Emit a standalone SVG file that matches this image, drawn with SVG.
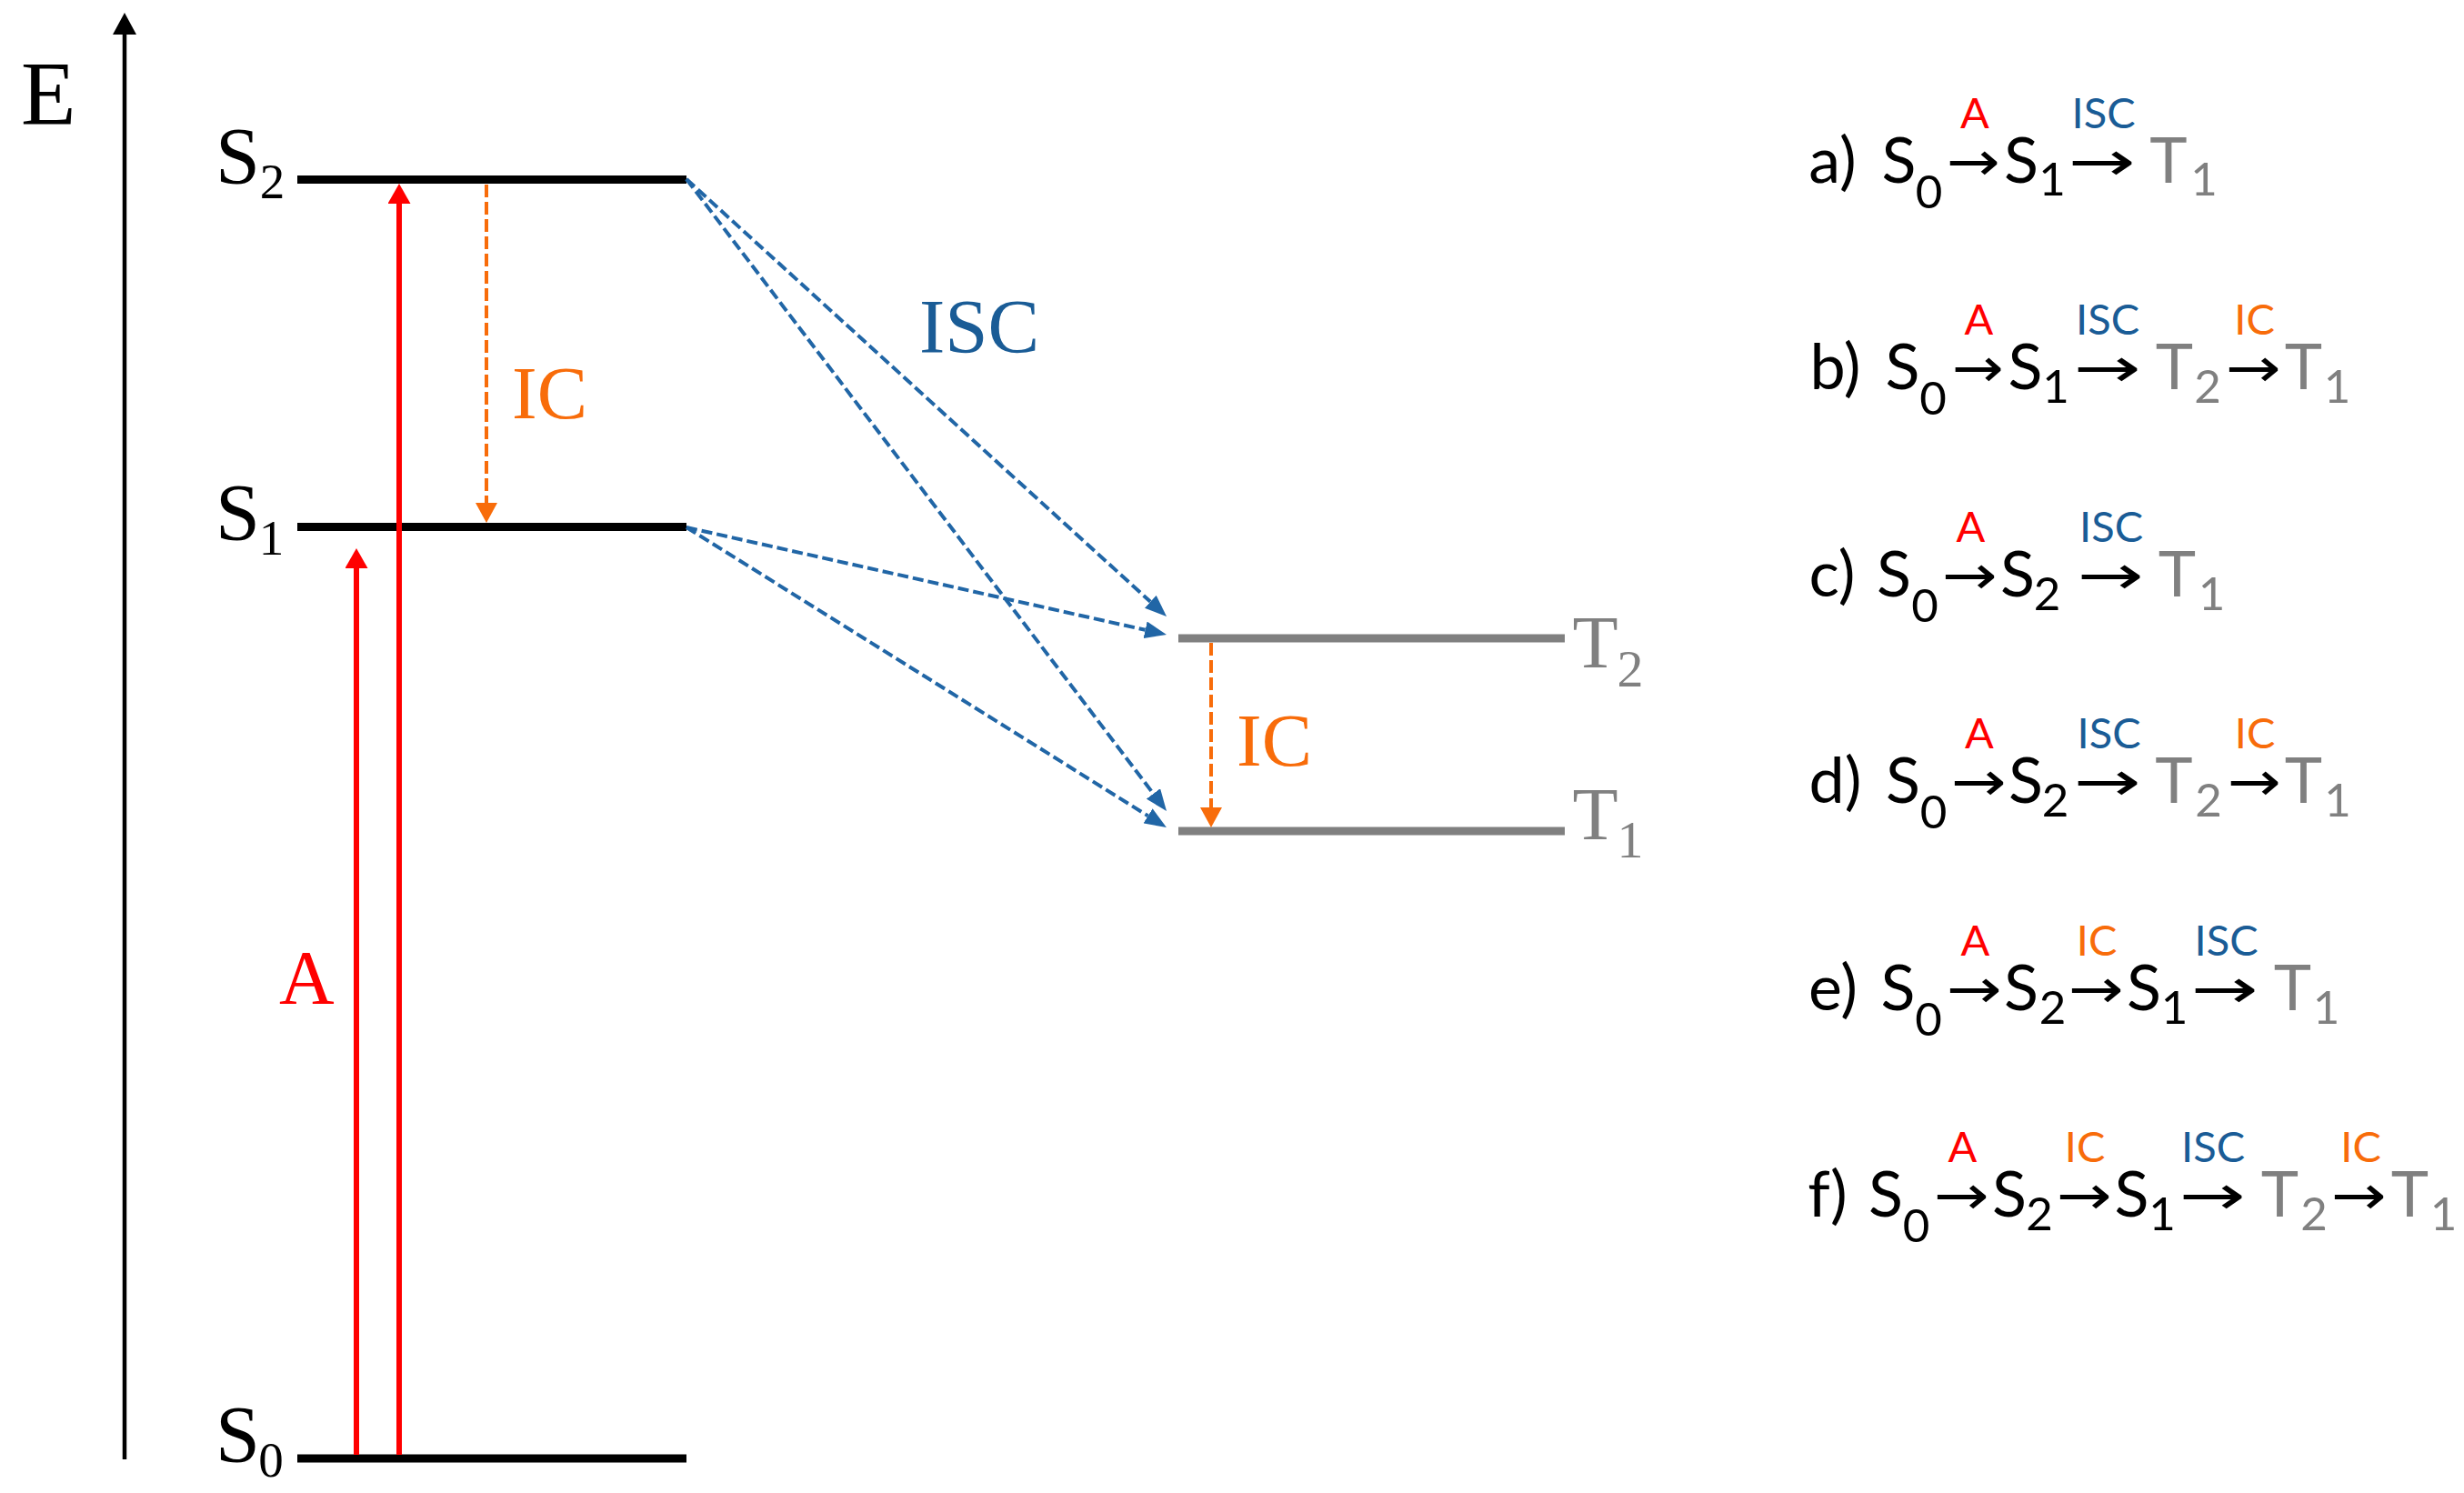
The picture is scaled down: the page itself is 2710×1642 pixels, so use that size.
<svg xmlns="http://www.w3.org/2000/svg" width="2710" height="1642" viewBox="0 0 2710 1642">
<style>
.lvl{stroke:#000;stroke-width:9;}
.tlvl{stroke:#808080;stroke-width:9;}
.serif{font-family:"Liberation Serif","Times New Roman",serif;}
.big{font-size:88px;}
.bsub{font-size:55px;}
.red{fill:#ff0000;}
.org{fill:#f86c0a;}
.blu{fill:#1a5c96;}
.gry{fill:#808080;}
.blk{fill:#000;}
.abs{stroke:#ff0000;stroke-width:6;fill:none;}
.icl{stroke:#f86c0a;stroke-width:4;stroke-dasharray:14 5;fill:none;}
.isc{stroke:#2166a6;stroke-width:4;stroke-dasharray:12 5;fill:none;}
.m{font-family:Lato,"Open Sans",sans-serif;font-size:70px;text-anchor:middle;}
.s{font-family:Lato,"Open Sans",sans-serif;font-size:51px;text-anchor:middle;}
.l{font-family:Lato,"Open Sans",sans-serif;font-size:47px;text-anchor:middle;}
.ar{font-family:"DejaVu Sans",sans-serif;font-size:60px;fill:#000;}
</style>
<defs>
<marker id="hBlack" markerUnits="userSpaceOnUse" viewBox="0 0 24 26" refX="0" refY="13" markerWidth="24" markerHeight="26" orient="auto"><path d="M0,0 L24,13 L0,26 z" fill="#000"/></marker>
<marker id="hRed" markerUnits="userSpaceOnUse" viewBox="0 0 22 25" refX="0" refY="12.5" markerWidth="22" markerHeight="25" orient="auto"><path d="M0,0 L22,12.5 L0,25 z" fill="#ff0000"/></marker>
<marker id="hOrg" markerUnits="userSpaceOnUse" viewBox="0 0 22 24" refX="0" refY="12" markerWidth="22" markerHeight="24" orient="auto"><path d="M0,0 L22,12 L0,24 z" fill="#f86c0a"/></marker>
<marker id="hBlu" markerUnits="userSpaceOnUse" viewBox="0 0 24 19" refX="0" refY="9.5" markerWidth="24" markerHeight="19" orient="auto"><path d="M0,0 L24,9.5 L0,19 z" fill="#2166a6"/></marker>
</defs>
<rect width="2710" height="1642" fill="#fff"/>

<g id="axis">
<line x1="137" y1="1605" x2="137" y2="38" stroke="#000" stroke-width="4.5" marker-end="url(#hBlack)"/>
<text class="serif" x="23" y="136" font-size="99" fill="#000">E</text>
</g>

<g id="node-S2">
<line class="lvl" x1="327" y1="197.5" x2="755" y2="197.5"/>
<text class="serif big blk" x="237" y="201">S</text>
<text class="serif bsub blk" x="299.5" y="218" text-anchor="middle">2</text>
</g>
<g id="node-S1">
<line class="lvl" x1="327" y1="579.5" x2="755" y2="579.5"/>
<text class="serif big blk" x="237" y="593">S</text>
<text class="serif bsub blk" x="298.5" y="610" text-anchor="middle">1</text>
</g>
<g id="node-S0">
<line class="lvl" x1="327" y1="1604" x2="755" y2="1604"/>
<text class="serif big blk" x="237" y="1607">S</text>
<text class="serif bsub blk" x="298" y="1624" text-anchor="middle">0</text>
</g>
<g id="node-T2">
<line class="tlvl" x1="1296" y1="702" x2="1721" y2="702"/>
<text class="serif gry" x="1754.5" y="734" font-size="82" text-anchor="middle">T</text>
<text class="serif gry" x="1793" y="755" font-size="58" text-anchor="middle">2</text>
</g>
<g id="node-T1">
<line class="tlvl" x1="1296" y1="914" x2="1721" y2="914"/>
<text class="serif gry" x="1754.5" y="923" font-size="82" text-anchor="middle">T</text>
<text class="serif gry" x="1793" y="943" font-size="58" text-anchor="middle">1</text>
</g>

<g id="connectors">
<line class="abs" x1="439" y1="1600" x2="439" y2="224" marker-end="url(#hRed)"/>
<line class="abs" x1="392" y1="1600" x2="392" y2="625" marker-end="url(#hRed)"/>
<line class="icl" x1="535" y1="203" x2="535" y2="553" marker-end="url(#hOrg)"/>
<line class="icl" x1="1332" y1="707" x2="1332" y2="888" marker-end="url(#hOrg)"/>
<line class="isc" x1="755" y1="197" x2="1265.3" y2="661.8" marker-end="url(#hBlu)"/>
<line class="isc" x1="755" y1="197" x2="1268.5" y2="872.9" marker-end="url(#hBlu)"/>
<line class="isc" x1="755" y1="580" x2="1259.6" y2="692.8" stroke-width="5" marker-end="url(#hBlu)"/>
<line class="isc" x1="755" y1="580" x2="1262.6" y2="897.3" marker-end="url(#hBlu)"/>
</g>

<g id="edge-labels">
<text class="serif red" x="307" y="1104" font-size="84">A</text>
<text class="serif org" x="563" y="460" font-size="83">IC</text>
<text class="serif org" x="1360" y="842" font-size="83">IC</text>
<text class="serif blu" x="1011" y="388" font-size="85">ISC</text>
</g>

<g id="path-a">
<text class="m blk" x="2015.5" y="201">a)</text>
<text class="m blk" x="2088.5" y="201">S</text><text class="s blk" x="2121.5" y="229">0</text>
<text class="ar" x="2141" y="198" textLength="59" lengthAdjust="spacingAndGlyphs">→</text>
<text class="m blk" x="2223" y="201">S</text><text class="s blk" x="2257" y="215">1</text>
<text class="ar" x="2275" y="198" textLength="74" lengthAdjust="spacingAndGlyphs">→</text>
<text class="m gry" x="2385" y="201">T</text><text class="s gry" x="2424" y="215">1</text>
<text class="l red" x="2172" y="141">A</text>
<text class="l blu" x="2313.5" y="141">ISC</text>
</g>

<g id="path-b">
<text class="m blk" x="2018.5" y="428">b)</text>
<text class="m blk" x="2092.5" y="428">S</text><text class="s blk" x="2126" y="456">0</text>
<text class="ar" x="2147" y="425" textLength="57" lengthAdjust="spacingAndGlyphs">→</text>
<text class="m blk" x="2227.5" y="428">S</text><text class="s blk" x="2261" y="443">1</text>
<text class="ar" x="2281" y="425" textLength="74" lengthAdjust="spacingAndGlyphs">→</text>
<text class="m gry" x="2391.5" y="428">T</text><text class="s gry" x="2428" y="443">2</text>
<text class="ar" x="2448" y="425" textLength="61" lengthAdjust="spacingAndGlyphs">→</text>
<text class="m gry" x="2533.5" y="428">T</text><text class="s gry" x="2570.5" y="443">1</text>
<text class="l red" x="2176.5" y="368">A</text>
<text class="l blu" x="2318" y="368">ISC</text>
<text class="l org" x="2479.5" y="368">IC</text>
</g>

<g id="path-c">
<text class="m blk" x="2015" y="656">c)</text>
<text class="m blk" x="2083" y="656">S</text><text class="s blk" x="2117" y="684">0</text>
<text class="ar" x="2136" y="653" textLength="61" lengthAdjust="spacingAndGlyphs">→</text>
<text class="m blk" x="2219" y="656">S</text><text class="s blk" x="2251.5" y="671">2</text>
<text class="ar" x="2285" y="653" textLength="73" lengthAdjust="spacingAndGlyphs">→</text>
<text class="m gry" x="2394.5" y="656">T</text><text class="s gry" x="2432.5" y="671">1</text>
<text class="l red" x="2167.5" y="596">A</text>
<text class="l blu" x="2322" y="596">ISC</text>
</g>

<g id="path-d">
<text class="m blk" x="2018.5" y="883">d)</text>
<text class="m blk" x="2093" y="883">S</text><text class="s blk" x="2126.5" y="911">0</text>
<text class="ar" x="2146" y="880" textLength="61" lengthAdjust="spacingAndGlyphs">→</text>
<text class="m blk" x="2228" y="883">S</text><text class="s blk" x="2260.5" y="898">2</text>
<text class="ar" x="2281" y="880" textLength="74" lengthAdjust="spacingAndGlyphs">→</text>
<text class="m gry" x="2391" y="883">T</text><text class="s gry" x="2429" y="898">2</text>
<text class="ar" x="2450" y="880" textLength="59" lengthAdjust="spacingAndGlyphs">→</text>
<text class="m gry" x="2533.5" y="883">T</text><text class="s gry" x="2571" y="898">1</text>
<text class="l red" x="2177" y="823">A</text>
<text class="l blu" x="2319.5" y="823">ISC</text>
<text class="l org" x="2480" y="823">IC</text>
</g>

<g id="path-e">
<text class="m blk" x="2016" y="1111">e)</text>
<text class="m blk" x="2087.5" y="1111">S</text><text class="s blk" x="2121" y="1139">0</text>
<text class="ar" x="2141" y="1108" textLength="61" lengthAdjust="spacingAndGlyphs">→</text>
<text class="m blk" x="2223" y="1111">S</text><text class="s blk" x="2257.5" y="1126">2</text>
<text class="ar" x="2275" y="1108" textLength="61" lengthAdjust="spacingAndGlyphs">→</text>
<text class="m blk" x="2358" y="1111">S</text><text class="s blk" x="2391.5" y="1126">1</text>
<text class="ar" x="2410" y="1108" textLength="74" lengthAdjust="spacingAndGlyphs">→</text>
<text class="m gry" x="2521.5" y="1111">T</text><text class="s gry" x="2558.5" y="1126">1</text>
<text class="l red" x="2172.5" y="1051">A</text>
<text class="l org" x="2306" y="1051">IC</text>
<text class="l blu" x="2448.5" y="1051">ISC</text>
</g>

<g id="path-f">
<text class="m blk" x="2010" y="1338">f)</text>
<text class="m blk" x="2074" y="1338">S</text><text class="s blk" x="2107.5" y="1366">0</text>
<text class="ar" x="2127" y="1335" textLength="61" lengthAdjust="spacingAndGlyphs">→</text>
<text class="m blk" x="2210" y="1338">S</text><text class="s blk" x="2243" y="1353">2</text>
<text class="ar" x="2262" y="1335" textLength="61" lengthAdjust="spacingAndGlyphs">→</text>
<text class="m blk" x="2344.5" y="1338">S</text><text class="s blk" x="2378" y="1353">1</text>
<text class="ar" x="2397" y="1335" textLength="73" lengthAdjust="spacingAndGlyphs">→</text>
<text class="m gry" x="2507.5" y="1338">T</text><text class="s gry" x="2545" y="1353">2</text>
<text class="ar" x="2564" y="1335" textLength="61" lengthAdjust="spacingAndGlyphs">→</text>
<text class="m gry" x="2650.5" y="1338">T</text><text class="s gry" x="2687.5" y="1353">1</text>
<text class="l red" x="2158.5" y="1278">A</text>
<text class="l org" x="2293" y="1278">IC</text>
<text class="l blu" x="2434" y="1278">ISC</text>
<text class="l org" x="2596.5" y="1278">IC</text>
</g>
</svg>
